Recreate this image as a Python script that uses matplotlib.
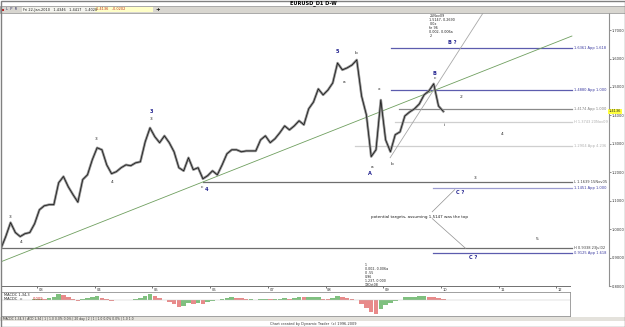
import matplotlib
matplotlib.use('Agg')
import matplotlib.pyplot as plt
import numpy as np
import pandas as pd

# EURUSD monthly path, May 2002 .. Jan 2010
months = pd.period_range('2002-05', '2010-01', freq='M')
close = [0.932, 0.974, 1.023, 0.988, 0.974, 0.984, 0.988, 1.019, 1.068, 1.082,
         1.086, 1.086, 1.163, 1.185, 1.149, 1.121, 1.095, 1.174, 1.191, 1.244,
         1.286, 1.279, 1.226, 1.195, 1.202, 1.216, 1.226, 1.223, 1.233, 1.237,
         1.307, 1.356, 1.325, 1.304, 1.328, 1.304, 1.272, 1.216, 1.205, 1.251,
         1.209, 1.216, 1.177, 1.188, 1.205, 1.191, 1.226, 1.265, 1.279, 1.279,
         1.272, 1.275, 1.275, 1.275, 1.314, 1.328, 1.304, 1.318, 1.339, 1.363,
         1.349, 1.363, 1.381, 1.367, 1.423, 1.447, 1.493, 1.472, 1.489, 1.514,
         1.584, 1.560, 1.567, 1.577, 1.595, 1.468, 1.402, 1.255, 1.279, 1.454,
         1.314, 1.272, 1.332, 1.342, 1.398, 1.412, 1.423, 1.440, 1.472, 1.486,
         1.511, 1.433, 1.414]

# MACD histogram, Dec 2002 .. Jan 2010
macd_months = pd.period_range('2002-12', '2010-01', freq='M')
macd_hist = [1.0, 1.5, 1.0, 2.0, 3.0, 6.0, 5.0, 3.0, 1.5, -0.5,
             1.0, 2.5, 3.5, 4.0, 2.5, 1.0, -0.5, 0.5, 0.5, 0.5,
             0.5, 1.0, 2.0, 4.0, 6.0, 4.0, 2.0, 0.5, -2.0, -4.0,
             -7.0, -6.0, -3.0, -3.5, -3.0, -3.5, -2.0, -1.0, 0.5, 1.0,
             2.0, 3.0, 2.5, 2.0, 1.0, 1.0, 0.5, 1.0, 1.5, 1.0,
             1.0, 1.5, 2.0, 1.5, 2.0, 3.0, 2.8, 3.0, 3.2, 3.5,
             1.5, 1.0, 2.0, 4.0, 3.0, 2.0, 1.0, 0.5, -4.0, -8.0,
             -12.0, -14.0, -9.0, -5.0, -3.0, -1.0, 0.5, 3.0, 3.0, 3.5,
             4.0, 4.5, 3.5, 3.0, 2.0, 1.0]
macd_hist = [v / 1000 for v in macd_hist]

# horizontal target / pivot levels
level_price = [1.636, 1.489, 1.423, 1.377, 1.293, 1.167, 1.146, 0.935, 0.917]
level_start = [2009.13, 2009.13, 2009.27, 2009.20, 2008.51, 2005.88, 2009.86, 2002.36, 2009.86]
level_label = ['1.6361 App 1.618', '1.4880 App 1.000', '1.4174 App 1.000',
               'H 1.3743 20Nov09', '1.2904 App 4.236', 'L 1.1639 15Nov05',
               '1.1451 App 1.000', 'H 0.9338 23Jul02', '0.9125 App 1.618']
level_color = ['#5c5cae', '#5c5cae', '#8a8a8a', '#cfcfcf', '#cfcfcf',
               '#6e6e6e', '#9c9cd0', '#6e6e6e', '#5c5cae']
level_text_color = ['#3a3aa0', '#3a3aa0', '#808080', '#b0b0b0', '#b0b0b0',
                    '#404040', '#3a3aa0', '#404040', '#3a3aa0']
level_end = 2012.27

# trend lines (date, price) anchors
green_line = ([2002.36, 2012.27], [0.884, 1.679])
steep_line = ([2009.12, 2010.73], [1.251, 1.760])
target_lines = [([2009.85, 2010.24], [1.061, 1.139]),
                ([2009.85, 2010.43], [1.037, 0.932])]

# wave labels
wave_x = [2002.53, 2002.72, 2004.02, 2004.30, 2004.98, 2004.98, 2005.86, 2005.93,
          2008.20, 2008.32, 2008.53, 2008.93, 2008.81, 2008.77, 2009.15, 2009.88,
          2009.90, 2010.35, 2010.05, 2011.06, 2010.59, 2010.33, 2011.67, 2010.56, 2010.19]
wave_y = [1.044, 0.953, 1.318, 1.167, 1.412, 1.388, 1.149, 1.139,
          1.623, 1.518, 1.619, 1.493, 1.219, 1.195, 1.230, 1.546,
          1.532, 1.465, 1.367, 1.335, 1.181, 1.128, 0.967, 0.900, 1.658]
wave_txt = ['3', '4', '3', '4', '3', '3', 'c', '4',
            '5', 'a', 'b', 'x', 'a', 'A', 'b', 'B',
            'c', '2', 'i', '4', '3', 'C ?', '5', 'C ?', 'B ?']
wave_blue = [0, 0, 0, 0, 1, 0, 0, 1,
             1, 0, 0, 0, 0, 1, 0, 1,
             0, 0, 0, 0, 0, 1, 0, 1, 1]

year_ticks = list(range(2003, 2013))
price_ticks = [0.8, 0.9, 1.0, 1.1, 1.2, 1.3, 1.4, 1.5, 1.6, 1.7]

W, H = 625, 327


def box(x0, y0, x1, y1):
    return [x0 / W, 1 - y1 / H, (x1 - x0) / W, (y1 - y0) / H]


def to_year(periods):
    return np.array([p.year + (p.month - 0.5) / 12 for p in periods])


plt.rcParams['font.family'] = ['DejaVu Sans']
fig = plt.figure(figsize=(W / 100, H / 100), dpi=100)
fig.patch.set_facecolor('white')

X0, X1 = 2002.376, 2012.913
X1_low = 2012.237

# main price panel
ax = fig.add_axes(box(1, 13, 609, 286))
ax.set_xlim(X0, X1)
ax.set_ylim(0.802, 1.760)
for s in ['top', 'left', 'bottom']:
    ax.spines[s].set_visible(False)
ax.spines['right'].set_color('#909090')
ax.spines['right'].set_linewidth(0.8)
ax.set_xticks([])
ax.yaxis.tick_right()
ax.set_yticks(price_ticks)
ax.set_yticklabels(['%.4f' % v for v in price_ticks])
ax.tick_params(axis='y', labelsize=2.6, length=1.2, width=0.4, pad=0.6, colors='#333333')

yrs = to_year(months)
ax.plot(yrs, close, color='#909090', lw=1.8, zorder=3)
ax.plot(yrs, close, color='#111111', lw=0.5, zorder=4)

ax.plot(*green_line, color='#6f9f5f', lw=0.6, zorder=2)
ax.plot(*steep_line, color='#a8a8a8', lw=0.6, zorder=2)
for xs, ys in target_lines:
    ax.plot(xs, ys, color='#909090', lw=0.5, zorder=2)

for p, s, lab, c, tc in zip(level_price, level_start, level_label, level_color, level_text_color):
    ax.plot([s, level_end], [p, p], color=c, lw=0.9, zorder=1)
    ax.text(level_end + 0.04, p, lab, fontsize=2.6, color=tc, va='center', ha='left')

for x, y, t, b in zip(wave_x, wave_y, wave_txt, wave_blue):
    ax.text(x, y, t, fontsize=3.2 if not b else 3.6, color='#22228f' if b else '#222222',
            fontweight='bold' if b else 'normal', ha='center', va='center', zorder=6)

ax.text(2008.79, 1.044, 'potential targets, assuming 1.5147 was the top',
        fontsize=3, color='#222222', ha='left', va='center')
ax.text(2009.80, 1.758, '25Nov09\n1.5147, 0.2690\n0.0x\nfe 96\n0.002- 0.006a\n2',
        fontsize=2.4, color='#222222', ha='left', va='top', linespacing=1.0)
ax.text(2008.68, 0.880, '1\n0.002- 0.006a\n0 .55\n0.96\n1.237, 0.000\n19Oct08',
        fontsize=2.3, color='#222222', ha='left', va='top', linespacing=0.95)

# current price tag
ax.text(1.0, close[-1], '1.4136', transform=ax.get_yaxis_transform(), fontsize=2.6,
        ha='left', va='center', color='#222222',
        bbox=dict(boxstyle='square,pad=0.15', fc='#ffff40', ec='none'))

# date axis
ax_t = fig.add_axes(box(1, 286, 570, 292))
ax_t.set_xlim(X0, X1_low)
ax_t.set_ylim(0, 1)
for s in ['left', 'right', 'bottom']:
    ax_t.spines[s].set_visible(False)
ax_t.spines['top'].set_color('#707070')
ax_t.spines['top'].set_linewidth(0.7)
ax_t.set_yticks([])
ax_t.set_xticks(year_ticks)
ax_t.set_xticklabels([])
ax_t.tick_params(axis='x', direction='in', length=1.2, width=0.4, top=True, bottom=False)
for yr in year_ticks:
    ax_t.text(yr + 0.03, 0.35, '%02d' % (yr % 100), fontsize=2.6, color='#333333', ha='left', va='center')

# MACD panel
ax_m = fig.add_axes(box(1, 292, 570, 316))
ax_m.set_xlim(X0, X1_low)
ax_m.set_ylim(-0.016, 0.008)
ax_m.set_xticks([])
ax_m.set_yticks([])
for s in ax_m.spines.values():
    s.set_color('#909090')
    s.set_linewidth(0.6)
mx = to_year(macd_months)
prev = [macd_hist[0]] + macd_hist[:-1]
cols = ['#7fc07f' if v >= p else '#e88a8a' for v, p in zip(macd_hist, prev)]
ax_m.bar(mx, macd_hist, width=1 / 12 * 0.95, color=cols, linewidth=0)
ax_m.axhline(0, color='#c0c0c0', lw=0.3)
ax_m.text(2002.43, 0.0052, 'MACDC 1,34,3', fontsize=2.6, color='#222222', va='center')
ax_m.text(2002.43, 0.0010, 'MACDC  = ', fontsize=2.6, color='#222222', va='center')
ax_m.text(2002.93, 0.0010, '0.009', fontsize=2.6, color='#d02020', va='center')

# title and toolbar
fig.text(313 / W, 1 - 3 / H, 'EURUSD_D1 D-W', fontsize=3.6, fontweight='bold', ha='center', va='center')
fig.add_artist(plt.Rectangle((0, 1 - 13 / H), 1, 7 / H, transform=fig.transFigure,
                             fc='#d8d6d0', ec='#909090', lw=0.5))
fig.add_artist(plt.Rectangle((22 / W, 1 - 12 / H), 73 / W, 5 / H, transform=fig.transFigure,
                             fc='#f4f4ee', ec='none'))
fig.add_artist(plt.Rectangle((95 / W, 1 - 12 / H), 58 / W, 5 / H, transform=fig.transFigure,
                             fc='#ffffc8', ec='none'))
fig.add_artist(plt.Rectangle((2 / W, 1 - 11 / H), 2 / W, 2 / H, transform=fig.transFigure,
                             fc='#c02020', ec='none'))
fig.text(6 / W, 1 - 9.5 / H, 'L  P  R', fontsize=2.6, color='#333366', va='center')
fig.text(23 / W, 1 - 9.5 / H, 'Fri 22-Jan-2010   1.4346   1.4417   1.4028', fontsize=2.5,
         color='#222222', va='center')
fig.text(96 / W, 1 - 9.5 / H, '1.4136   -0.0202', fontsize=2.5, color='#c03020', va='center')
fig.text(158 / W, 1 - 9.5 / H, '+', fontsize=4, fontweight='bold', color='#111111', va='center', ha='center')

# bottom status strip
fig.add_artist(plt.Rectangle((0, 1 - 321 / H), 1, 4 / H, transform=fig.transFigure,
                             fc='#e4e2dc', ec='none'))
fig.text(3 / W, 1 - 319 / H, 'MACDC 1,34,3 | ACD 1,34 | 1 | 1.0 0.0% 0.0% | 20 day | 2 | 1 | 1.0 0.0% 0.0% | 1.0 1.0',
         fontsize=2.2, color='#333333', va='center')
fig.text(313 / W, 1 - 323.5 / H, 'Chart created by Dynamic Trader  (c) 1996-2009', fontsize=2.5,
         color='#333333', ha='center', va='center')

# outer frame
fig.add_artist(plt.Rectangle((0.5 / W, 0.5 / H), 1 - 1 / W, 1 - 1 / H, transform=fig.transFigure,
                             fc='none', ec='#808080', lw=1.0))

fig.savefig('out.png', dpi=100)
